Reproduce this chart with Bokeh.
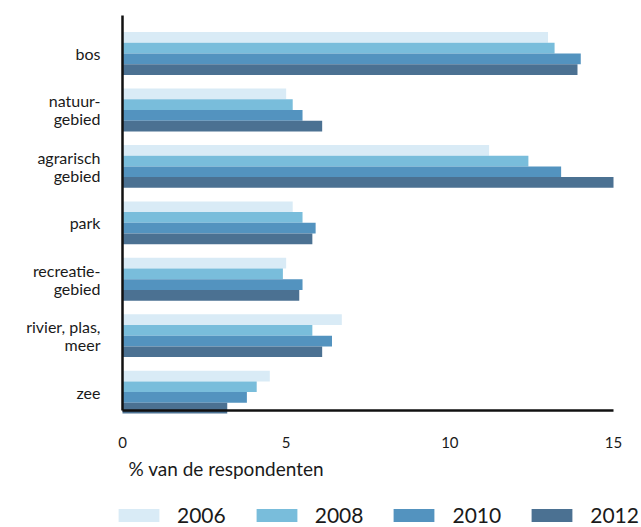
from bokeh.plotting import figure
from bokeh.models import Range1d, Legend, LegendItem, FixedTicker, Label
from bokeh.transform import dodge
from bokeh.embed import file_html
from bokeh.resources import INLINE

categories = ["bos", "natuur-\ngebied", "agrarisch\ngebied", "park",
              "recreatie-\ngebied", "rivier, plas,\nmeer", "zee"]
years = ["2006", "2008", "2010", "2012"]
v2006 = [13.0, 5.0, 11.2, 5.2, 5.0, 6.7, 4.5]
v2008 = [13.2, 5.2, 12.4, 5.5, 4.9, 5.8, 4.1]
v2010 = [14.0, 5.5, 13.4, 5.9, 5.5, 6.4, 3.8]
v2012 = [13.9, 6.1, 15.0, 5.8, 5.4, 6.1, 3.2]
x_ticks = [0, 5, 10, 15]
x_title = "% van de respondenten"

series = [v2006, v2008, v2010, v2012]
colors = ["#d9ebf6", "#79bddb", "#5393bf", "#4b7192"]
offsets = [0.285, 0.095, -0.095, -0.285]
FONT = "Lato"

n = len(categories)
positions = [n - 1 - i for i in range(n)]  # first category at top

W, H = 641, 527
x0_px, x15_px = 122, 613
xs = (x15_px - x0_px) / 15.0
ytop_val, ytop_px, ybot_px = n - 1 + 0.674, 15, 410
ys = (ybot_px - ytop_px) / 7.0
y_axis_val = ytop_val - 7.0

p = figure(width=W, height=H, output_backend="svg", toolbar_location=None,
           x_range=Range1d(-x0_px / xs, (W - x0_px) / xs),
           y_range=Range1d(ytop_val - (H - ytop_px) / ys, ytop_val + ytop_px / ys),
           min_border_left=0, min_border_right=0, min_border_top=0,
           min_border_bottom=0)
p.outline_line_color = None
p.xgrid.visible = False
p.ygrid.visible = False
p.background_fill_color = "white"
p.border_fill_color = "white"

data = {"pos": positions}
for y, s in zip(years, series):
    data[y] = s

items = []
for y, c, off in zip(years, colors, offsets):
    r = p.hbar(y=dodge("pos", off), left=0, right=y, height=0.19,
               source=data, fill_color=c, line_color=None)
    items.append(LegendItem(label=y, renderers=[r]))

for ax in (p.xaxis[0], p.yaxis[0]):
    ax.axis_line_color = "#111111"
    ax.axis_line_width = 2.5
    ax.major_tick_line_color = None
    ax.minor_tick_line_color = None
    ax.major_label_text_font = FONT
    ax.major_label_text_color = "#1a1a1a"

p.xaxis.fixed_location = y_axis_val
p.xaxis.bounds = (0, 15)
p.xaxis.ticker = FixedTicker(ticks=x_ticks)
p.xaxis.major_label_text_font_size = "15px"
p.xaxis.major_label_standoff = 20

p.yaxis.fixed_location = 0
p.yaxis.bounds = (y_axis_val, ytop_val)
p.yaxis.ticker = FixedTicker(ticks=positions)
p.yaxis.major_label_overrides = {pos: lab for pos, lab in zip(positions, categories)}
p.yaxis.major_label_text_font_size = "16px"
p.yaxis.major_label_text_line_height = 0.95
p.yaxis.major_label_standoff = 16

p.add_layout(Label(x=0, x_offset=6, y=H - 468, y_units="screen", text=x_title,
                   text_font=FONT, text_font_size="19px", text_color="#1a1a1a",
                   text_baseline="middle"))

legend = Legend(items=items, orientation="horizontal", location=(113, 0),
                glyph_width=51, glyph_height=16, label_standoff=13, spacing=25,
                padding=0, margin=0, border_line_color=None,
                background_fill_alpha=0, label_text_font=FONT,
                label_text_font_size="21px", label_text_color="#1a1a1a")
p.add_layout(legend)

open("out.html", "w").write(file_html(p, INLINE))
